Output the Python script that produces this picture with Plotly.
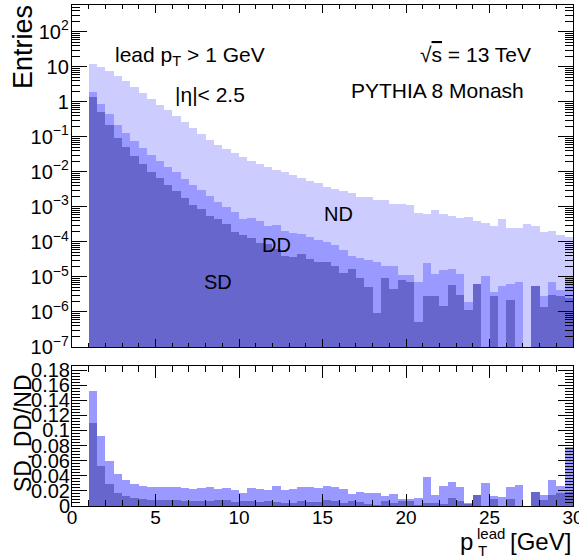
import plotly.graph_objects as go

# Leading-track pT spectra (0.5 GeV bins, lower edges in GeV)
pt_low = [1.0, 1.5, 2.0, 2.5, 3.0, 3.5, 4.0, 4.5, 5.0, 5.5,
          6.0, 6.5, 7.0, 7.5, 8.0, 8.5, 9.0, 9.5, 10.0, 10.5,
          11.0, 11.5, 12.0, 12.5, 13.0, 13.5, 14.0, 14.5, 15.0, 15.5,
          16.0, 16.5, 17.0, 17.5, 18.0, 18.5, 19.0, 19.5, 20.0, 20.5,
          21.0, 21.5, 22.0, 22.5, 23.0, 23.5, 24.0, 24.5, 25.0, 25.5,
          26.0, 26.5, 27.0, 27.5, 28.0, 28.5, 29.0, 29.5]
bin_width = 0.5

# Non-diffractive
nd = [12.2, 9.68, 7.43, 5.36, 3.85, 2.59, 1.81, 1.22, 0.820, 0.571,
      0.385, 0.269, 0.181, 0.122, 0.0820, 0.0590, 0.0440, 0.0338, 0.0259, 0.0206,
      0.0169, 0.0139, 0.0114, 9.68e-3, 8.20e-3, 6.75e-3, 5.53e-3, 4.69e-3, 3.63e-3, 3.24e-3,
      2.75e-3, 2.45e-3, 1.95e-3, 1.86e-3, 1.58e-3, 1.57e-3, 1.23e-3, 1.20e-3, 1.15e-3, 6.61e-4,
      6.31e-4, 8.13e-4, 6.17e-4, 5.50e-4, 4.79e-4, 5.01e-4, 4.07e-4, 3.55e-4, 2.88e-4, 4.47e-4,
      2.45e-4, 2.57e-4, 3.24e-4, 2.88e-4, 1.91e-4, 2.04e-4, 1.58e-4, 1.35e-4]

# Double diffractive
dd = [1.86, 0.891, 0.447, 0.224, 0.132, 0.0741, 0.0479, 0.0309, 0.0204, 0.0141,
      9.77e-3, 6.31e-3, 4.17e-3, 2.95e-3, 2.04e-3, 1.35e-3, 1.02e-3, 7.08e-4, 4.57e-4, 4.90e-4,
      3.89e-4, 2.88e-4, 3.09e-4, 2.04e-4, 1.82e-4, 1.70e-4, 1.38e-4, 1.12e-4, 9.77e-5, 8.13e-5,
      6.03e-5, 3.89e-5, 3.55e-5, 3.09e-5, 2.63e-5, 2.04e-5, 2.02e-5, 1.15e-5, 1.12e-5, 7.41e-6,
      2.45e-5, 1.23e-5, 1.62e-5, 1.74e-5, 1.23e-5, 1.95e-6, 5.01e-6, 1.07e-5, 3.80e-6, 5.50e-6,
      6.31e-6, 7.08e-6, 0.0, 4.47e-6, 2.88e-6, 7.08e-6, 4.27e-6, 1.05e-5]

# Single diffractive
sd = [1.34, 0.513, 0.214, 0.0955, 0.0513, 0.0285, 0.0168, 9.77e-3, 6.61e-3, 4.27e-3,
      2.88e-3, 1.78e-3, 1.15e-3, 8.51e-4, 5.37e-4, 4.37e-4, 3.31e-4, 1.95e-4, 1.58e-4, 1.26e-4,
      9.55e-5, 8.51e-5, 6.31e-5, 3.98e-5, 3.72e-5, 4.47e-5, 3.16e-5, 2.63e-5, 2.69e-5, 2.09e-5,
      1.26e-5, 1.66e-5, 9.12e-6, 5.01e-6, 9.12e-7, 9.55e-6, 4.57e-6, 8.13e-6, 7.08e-6, 5.25e-7,
      2.88e-6, 2.92e-6, 1.48e-6, 6.03e-6, 3.02e-6, 1.12e-6, 6.17e-6, 0.0, 2.82e-6, 0.0,
      2.24e-6, 0.0, 0.0, 5.50e-6, 1.41e-6, 3.02e-6, 2.82e-6, 2.57e-6]

x_tick_vals = [0, 5, 10, 15, 20, 25, 30]

colors = {"ND": "#ccccff", "DD": "#9999ff", "SD": "#6666cc"}

centers = [lo + bin_width / 2 for lo in pt_low]


def positive(vals):
    return [v if v > 0 else None for v in vals]


dd_ratio = [d / n for d, n in zip(dd, nd)]
sd_ratio = [s / n for s, n in zip(sd, nd)]

FONT = "Liberation Sans, Arial, Helvetica, sans-serif"
W, H = 579, 558
L, R, T, B = 72, 6, 5, 52
plot_h = H - T - B
plot_w = W - L - R


def px(xp):
    return (xp - L) / plot_w


def py(yp):
    return (H - B - yp) / plot_h


fig = go.Figure()

for name, vals in (("ND", nd), ("DD", dd), ("SD", sd)):
    fig.add_trace(go.Bar(
        x=centers, y=positive(vals), width=bin_width, name=name,
        marker=dict(color=colors[name], line=dict(width=0)),
        xaxis="x", yaxis="y", hoverinfo="skip"))

for name, vals in (("DD", dd_ratio), ("SD", sd_ratio)):
    fig.add_trace(go.Bar(
        x=centers, y=positive(vals), width=bin_width, name=name + "/ND",
        marker=dict(color=colors[name], line=dict(width=0)),
        xaxis="x2", yaxis="y2", hoverinfo="skip"))

axis_common = dict(showline=True, linecolor="black", linewidth=1, mirror="ticks",
                   ticks="inside", tickcolor="black", showgrid=False, zeroline=False,
                   automargin=False, ticklabeloverflow="allow")

top_bottom = (H - B - 347) / plot_h
ratio_top = (H - B - 366) / plot_h

fig.update_layout(
    width=W, height=H,
    margin=dict(l=L, r=R, t=T, b=B, pad=0),
    paper_bgcolor="white", plot_bgcolor="white",
    barmode="overlay", bargap=0, showlegend=False,
    font=dict(family=FONT, color="black"),
    xaxis=dict(axis_common, domain=[0, 1], range=[0, 30], anchor="y",
               tickmode="array", tickvals=x_tick_vals, ticklen=8, showticklabels=False,
               minor=dict(ticks="inside", ticklen=4, tick0=0, dtick=1, tickcolor="black")),
    yaxis=dict(axis_common, type="log", domain=[top_bottom, 1], range=[-7, 2.763],
               anchor="x", dtick=1, exponentformat="power", ticklen=15,
               tickfont=dict(size=16), ticklabelstandoff=-1,
               minor=dict(ticks="inside", ticklen=8, dtick="D1", tickcolor="black")),
    xaxis2=dict(axis_common, domain=[0, 1], range=[0, 30], anchor="y2",
                tickmode="array", tickvals=x_tick_vals, ticklen=12,
                tickfont=dict(size=19), ticklabelstandoff=-6,
                minor=dict(ticks="inside", ticklen=6, tick0=0, dtick=1, tickcolor="black")),
    yaxis2=dict(axis_common, domain=[0, ratio_top], range=[0, 0.1853], anchor="x2",
                tick0=0, dtick=0.02, ticklen=15, tickfont=dict(size=20),
                ticklabelstandoff=-3,
                minor=dict(ticks="inside", ticklen=8, dtick=0.004, tickcolor="black")),
)

notes = [
    ("lead p<sub>T</sub> &gt; 1 GeV", 113, 56, 21, "left"),
    ("|η|&lt; 2.5", 173, 94, 21, "left"),
    ("√<span style='text-decoration:overline'>s</span> = 13 TeV", 418, 55, 21, "left"),
    ("PYTHIA 8 Monash", 349, 90, 21, "left"),
    ("ND", 322, 214, 20, "left"),
    ("DD", 260, 245, 20, "left"),
    ("SD", 202, 282, 20, "left"),
]
for text, xp, yp, size, anchor in notes:
    fig.add_annotation(text=text, x=px(xp), y=py(yp), xref="paper", yref="paper",
                       xanchor=anchor, yanchor="middle", showarrow=False,
                       font=dict(size=size, family=FONT, color="black"))

# axis titles
fig.add_annotation(text="Entries", x=px(23), y=py(47), xref="paper", yref="paper",
                   textangle=-90, xanchor="center", yanchor="middle", showarrow=False,
                   font=dict(size=27, family=FONT, color="black"))
fig.add_annotation(text="SD, DD/ND", x=px(23), y=py(433), xref="paper", yref="paper",
                   textangle=-90, xanchor="center", yanchor="middle", showarrow=False,
                   font=dict(size=23, family=FONT, color="black"))
fig.add_annotation(text="p", x=px(475), y=py(541), xref="paper", yref="paper",
                   xanchor="right", yanchor="middle", showarrow=False,
                   font=dict(size=24, family=FONT, color="black"))
fig.add_annotation(text="lead", x=px(475), y=py(533), xref="paper", yref="paper",
                   xanchor="left", yanchor="middle", showarrow=False,
                   font=dict(size=15, family=FONT, color="black"))
fig.add_annotation(text="T", x=px(476), y=py(550), xref="paper", yref="paper",
                   xanchor="left", yanchor="middle", showarrow=False,
                   font=dict(size=15, family=FONT, color="black"))
fig.add_annotation(text="[GeV]", x=px(573), y=py(541), xref="paper", yref="paper",
                   xanchor="right", yanchor="middle", showarrow=False,
                   font=dict(size=24, family=FONT, color="black"))

fig.write_html("out.html")
